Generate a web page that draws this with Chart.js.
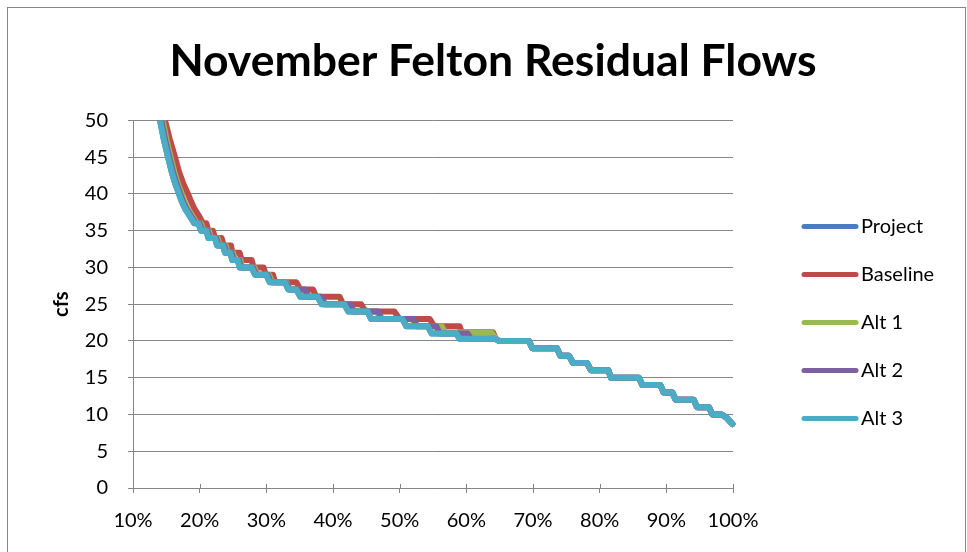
<!DOCTYPE html>
<html><head><meta charset="utf-8">
<script src="https://cdn.jsdelivr.net/npm/chart.js@4.4.1/dist/chart.umd.min.js"></script>
<style>html,body{margin:0;padding:0;background:#fff;}#wrap{width:967px;height:552px;position:relative;}</style>
</head><body><div id="wrap"><canvas id="c" width="967" height="552"></canvas></div>
<script>
// ---- data (x = % exceedance, y = cfs) ----
const seriesNames = ['Project', 'Baseline', 'Alt 1', 'Alt 2', 'Alt 3'];
const seriesColors = ['#4A7EBB', '#BE4B48', '#98B954', '#7D60A0', '#4BACC6'];
const xTicks = [10, 20, 30, 40, 50, 60, 70, 80, 90, 100];
const yTicks = [0, 5, 10, 15, 20, 25, 30, 35, 40, 45, 50];

const projectLevels = [53, 50, 47.5, 45, 43, 41.5, 40, 39, 38, 37, 36, 35, 34, 33, 32, 31, 30, 29, 28, 27, 26, 25, 24, 23, 22, 21, 20.3];
const projectFrom   = [13.3, 14.05, 14.6, 15.25, 15.8, 16.3, 16.9, 17.3, 17.8, 18.5, 19.2, 20.2, 21.3, 22.6, 23.8, 24.9, 26.0, 28.3, 30.5, 33.3, 35.1, 38.3, 42.3, 45.7, 51.0, 54.8, 59.0];
const projectTo     = [13.3, 14.05, 14.6, 15.25, 15.8, 16.3, 16.9, 17.3, 17.8, 18.5, 19.8, 21.0, 22.3, 23.5, 24.6, 25.7, 27.8, 30.0, 32.8, 34.5, 37.7, 41.7, 45.2, 50.4, 54.2, 58.5, 64.4];

const baselineLevels = [53, 50, 47.5, 45, 43, 41.5, 40, 39, 38, 37, 36, 35, 34, 33, 32, 31, 30, 29, 28, 27, 26, 25, 24, 23, 22, 21.2, 20.3];
const baselineFrom   = [14.0, 14.8, 15.5, 16.3, 16.9, 17.5, 18.25, 18.7, 19.2, 19.9, 20.5, 21.3, 22.3, 23.6, 24.9, 26.3, 28.1, 29.9, 31.3, 35.1, 37.5, 41.5, 44.9, 50.0, 55.2, 59.3, 64.4];
const baselineTo     = [14.0, 14.8, 15.5, 16.3, 16.9, 17.5, 18.25, 18.7, 19.2, 19.9, 21.0, 22.0, 23.3, 24.7, 26.0, 27.8, 29.6, 31.0, 34.5, 37.0, 41.0, 44.2, 49.2, 54.5, 59.0, 64.0, 64.4];

const alt1Levels = [53, 50, 47.5, 45, 43, 41.5, 40, 39, 38, 37, 36, 35, 34, 33, 32, 31, 30, 29, 28, 27, 26, 25, 24, 23, 22, 21.15, 20.3];
const alt1From   = [13.7, 14.45, 15.0, 15.65, 16.2, 16.7, 17.3, 17.7, 18.2, 18.9, 19.6, 20.6, 21.7, 23.0, 24.2, 25.3, 26.4, 28.7, 30.9, 33.4, 36.1, 38.6, 42.9, 47.1, 52.4, 56.8, 64.4];
const alt1To     = [13.7, 14.45, 15.0, 15.65, 16.2, 16.7, 17.3, 17.7, 18.2, 18.9, 20.2, 21.4, 22.7, 23.9, 25.0, 26.1, 28.2, 30.4, 33.0, 35.6, 38.1, 42.4, 46.6, 51.9, 56.3, 63.8, 64.4];

const alt2Levels = [53, 50, 47.5, 45, 43, 41.5, 40, 39, 38, 37, 36, 35, 34, 33, 32, 31, 30, 29, 28, 27, 26, 25, 24, 23, 22, 21, 20.3];
const alt2From   = [13.5, 14.25, 14.8, 15.45, 16.0, 16.5, 17.1, 17.5, 18.0, 18.7, 19.4, 20.4, 21.5, 22.8, 24.0, 25.1, 26.2, 28.5, 30.7, 33.5, 36.3, 38.8, 43.1, 47.3, 52.6, 56.0, 60.7];
const alt2To     = [13.5, 14.25, 14.8, 15.45, 16.0, 16.5, 17.1, 17.5, 18.0, 18.7, 20.0, 21.2, 22.5, 23.7, 24.8, 25.9, 28.0, 30.2, 32.9, 35.8, 38.3, 42.6, 46.8, 52.1, 55.5, 60.2, 64.4];

const alt3Levels = [53, 50, 47.5, 45, 43, 41.5, 40, 39, 38, 37, 36, 35, 34, 33, 32, 31, 30, 29, 28, 27, 26, 25, 24, 23, 22, 21, 20.3];
const alt3From   = [13.3, 14.05, 14.6, 15.25, 15.8, 16.3, 16.9, 17.3, 17.8, 18.5, 19.2, 20.2, 21.3, 22.6, 23.8, 24.9, 26.0, 28.3, 30.5, 33.3, 35.1, 38.3, 42.3, 45.7, 51.0, 54.8, 59.0];
const alt3To     = [13.3, 14.05, 14.6, 15.25, 15.8, 16.3, 16.9, 17.3, 17.8, 18.5, 19.8, 21.0, 22.3, 23.5, 24.6, 25.7, 27.8, 30.0, 32.8, 34.5, 37.7, 41.7, 45.2, 50.4, 54.2, 58.5, 64.4];

// low-flow tail shared by all scenarios
const tailLevels = [20, 19, 18, 17, 16, 15, 14, 13, 12, 11, 10, 9.6, 8.7];
const tailFrom   = [64.9, 69.9, 74.1, 76.0, 78.7, 81.7, 86.4, 89.6, 91.4, 94.6, 96.9, 99.0, 99.9];
const tailTo     = [69.4, 73.6, 75.4, 78.1, 81.3, 85.9, 89.1, 90.9, 94.1, 96.4, 98.3, 99.0, 99.9];

function buildSteps(levels, from, to) {
  const pts = [];
  const L = levels.concat(tailLevels), F = from.concat(tailFrom), T = to.concat(tailTo);
  for (let i = 0; i < L.length; i++) {
    pts.push({x: F[i], y: L[i]});
    if (T[i] !== F[i]) pts.push({x: T[i], y: L[i]});
  }
  return pts;
}
const seriesData = [
  buildSteps(projectLevels, projectFrom, projectTo),
  buildSteps(baselineLevels, baselineFrom, baselineTo),
  buildSteps(alt1Levels, alt1From, alt1To),
  buildSteps(alt2Levels, alt2From, alt2To),
  buildSteps(alt3Levels, alt3From, alt3To)
];

Chart.defaults.font.family = 'Lato, "Liberation Sans", sans-serif';
Chart.defaults.color = '#000';

const GRID = '#868686';

const framePlugin = {
  id: 'frame',
  beforeDraw(chart) {
    const ctx = chart.ctx;
    ctx.save();
    ctx.fillStyle = '#fff';
    ctx.fillRect(0, 0, chart.width, chart.height);
    ctx.strokeStyle = GRID;
    ctx.lineWidth = 1;
    ctx.strokeRect(7.5, 7.5, chart.width - 9, chart.height + 50);
    ctx.restore();
  },
  afterDraw(chart) {
    const ctx = chart.ctx;
    const ca = chart.chartArea;
    const xs = chart.scales.x;
    ctx.save();
    // upward half of crossing tick marks on x axis
    ctx.strokeStyle = GRID;
    ctx.lineWidth = 1;
    xTicks.forEach(v => {
      const px = Math.round(xs.getPixelForValue(v)) + 0.5;
      ctx.beginPath();
      ctx.moveTo(px, ca.bottom - 4);
      ctx.lineTo(px, ca.bottom);
      ctx.stroke();
    });
    // legend
    ctx.font = '20px Lato, "Liberation Sans", sans-serif';
    ctx.textBaseline = 'middle';
    ctx.textAlign = 'left';
    chart.data.datasets.forEach((ds, i) => {
      const y = ca.top + 106 + i * 48;
      const x0 = ca.right + 69;
      ctx.strokeStyle = ds.borderColor;
      ctx.lineWidth = 5;
      ctx.lineCap = 'round';
      ctx.beginPath();
      ctx.moveTo(x0 + 2, y);
      ctx.lineTo(x0 + 54, y);
      ctx.stroke();
      ctx.fillStyle = '#000';
      ctx.fillText(ds.label, x0 + 59, y);
    });
    ctx.restore();
  }
};

new Chart(document.getElementById('c'), {
  type: 'line',
  data: {
    datasets: seriesNames.map((name, i) => ({
      label: name,
      data: seriesData[i],
      borderColor: seriesColors[i],
      backgroundColor: seriesColors[i],
      borderWidth: 6,
      borderCapStyle: 'round',
      borderJoinStyle: 'round',
      pointRadius: 0,
      tension: 0,
      fill: false,
      order: seriesNames.length - 1 - i,
      clip: {left: 0, top: 0, right: 4, bottom: 0}
    }))
  },
  options: {
    responsive: false,
    animation: false,
    events: [],
    layout: {padding: {left: 19, right: 0, top: 0, bottom: 0}},
    plugins: {
      legend: {display: false},
      tooltip: {enabled: false},
      title: {
        display: true,
        text: 'November Felton Residual Flows',
        color: '#000',
        font: {size: 44.5, weight: 'bold', lineHeight: 1.2},
        padding: {top: 35, bottom: 32}
      }
    },
    scales: {
      x: {
        type: 'linear', min: 10, max: 100,
        afterBuildTicks: s => { s.ticks = xTicks.map(v => ({value: v})); },
        ticks: {callback: v => v + '%', font: {size: 20}, color: '#000', padding: 16, maxRotation: 0, autoSkip: false},
        grid: {drawOnChartArea: false, drawTicks: true, tickLength: 5, color: GRID, lineWidth: 1},
        border: {display: true, color: GRID, width: 1},
        afterFit: s => { s.height = 64; }
      },
      y: {
        min: 0, max: 50,
        afterBuildTicks: s => { s.ticks = yTicks.map(v => ({value: v})); },
        ticks: {font: {size: 20}, color: '#000', padding: 20},
        grid: {color: GRID, lineWidth: 1, tickLength: 5},
        border: {display: true, color: GRID, width: 1},
        title: {display: true, text: 'cfs', color: '#000', font: {size: 20, weight: 'bold'}, padding: {top: 31, bottom: 0}},
        afterFit: s => { s.width = 114; }
      },
      legendSpace: {
        type: 'linear', position: 'right', display: true, min: 0, max: 1,
        grid: {display: false, drawTicks: false},
        border: {display: false},
        ticks: {display: false},
        afterFit: s => { s.width = 234; }
      }
    }
  },
  plugins: [framePlugin]
});
</script>
</body></html>
